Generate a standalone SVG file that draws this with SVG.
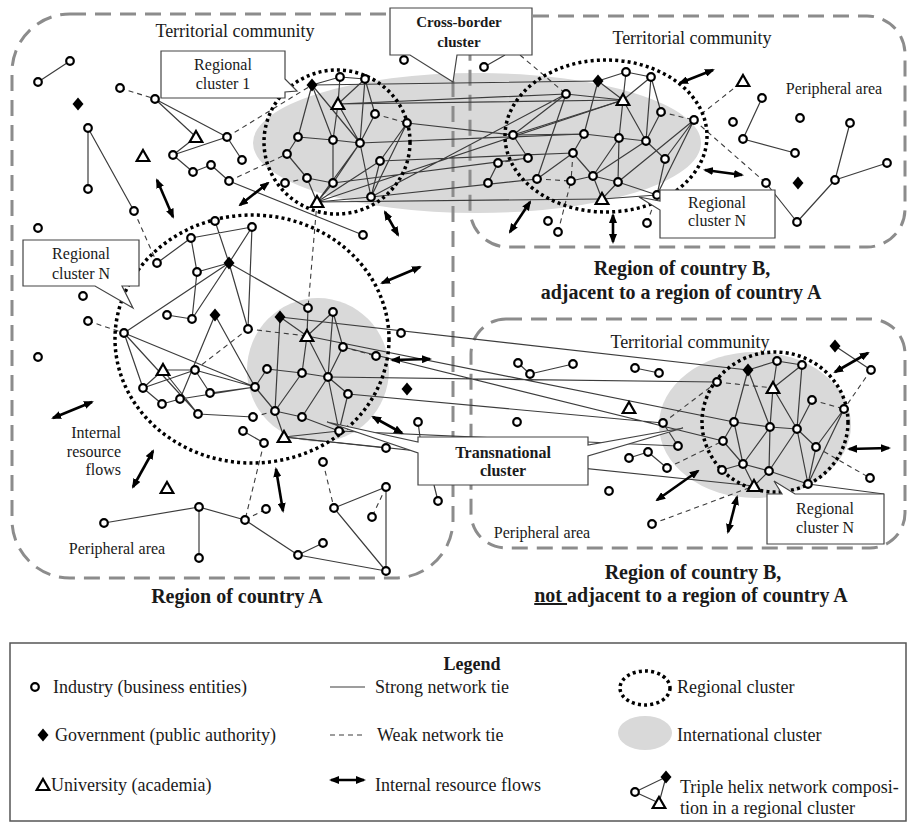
<svg xmlns="http://www.w3.org/2000/svg" width="907" height="822" viewBox="0 0 907 822">
<style>
.reg{fill:none;stroke:#8c8c8c;stroke-width:3;stroke-dasharray:16 9}
.intl{fill:#d9d9d9}
.dot{fill:none;stroke:#000;stroke-width:3.5;stroke-dasharray:3 3.2}
.s{stroke:#3c3c3c;stroke-width:1.2;fill:none}
.w{stroke:#3c3c3c;stroke-width:1.1;stroke-dasharray:5 4;fill:none}
.f{stroke:#000;stroke-width:2.6;marker-start:url(#ah);marker-end:url(#ah)}
.co{fill:#fff;stroke:#444;stroke-width:1.2}
text{font-family:"Liberation Serif","Times New Roman",serif;fill:#1a1a1a}
.tc{font-size:18px;text-anchor:middle}
.pa{font-size:16px;text-anchor:middle}
.cl{font-size:16px;text-anchor:middle}
.cb{font-size:15px;font-weight:bold;text-anchor:middle}
.tn{font-size:16px;font-weight:bold;text-anchor:middle}
.ti{font-size:20px;font-weight:bold;text-anchor:middle}
.lg{font-size:18px}
</style>
<defs>
<marker id="ah" viewBox="0 0 10 8" refX="8" refY="4" markerWidth="10" markerHeight="8" markerUnits="userSpaceOnUse" orient="auto-start-reverse"><path d="M0,0L10,4L0,8Z" fill="#000"/></marker>
<circle id="I" r="3.8" fill="#fff" stroke="#000" stroke-width="2.2"/>
<path id="G" d="M0,-6.5L5.5,0L0,6.5L-5.5,0Z" fill="#000"/>
<path id="U" d="M0,-6L6.3,5L-6.3,5Z" fill="#fff" stroke="#000" stroke-width="2.2"/>
</defs>

<g id="international-clusters">
<ellipse class="intl" cx="477" cy="143" rx="224" ry="70"/>
<ellipse class="intl" cx="318" cy="370" rx="71" ry="72"/>
<ellipse class="intl" cx="755" cy="425" rx="96" ry="73"/>
</g>

<g id="regions">
<rect class="reg" x="12" y="14" width="441" height="564" rx="58"/>
<rect class="reg" x="470" y="16" width="435" height="231" rx="38"/>
<rect class="reg" x="471" y="319" width="434" height="229" rx="35"/>
</g>

<g id="connectors">
<path class="s" d="M70 61L38 82M155 99L196 137M155 99L227 137M196 137L173 155M173 155L227 137M227 137L242 160M88 128L88 189M88 128L134 211M173 155L193 172M193 172L211 165M211 165L229 181M229 181L363 235M484 67L505 55"/>
<path class="s" d="M312 85L340 77M340 77L365 79M312 85L298 137M312 85L333 140M312 85L360 143M340 77L338 104M365 79L338 104M365 79L360 143M365 79L375 114M338 104L333 140M338 104L360 143M375 114L360 143M407 123L380 161M407 123L371 197M298 137L333 140M298 137L287 154M333 140L360 143M333 140L333 183M360 143L333 183M360 143L371 197M360 143L317 202M287 154L307 178M380 161L371 197M307 178L333 183M307 178L317 202M333 183L317 202M317 202L371 197M317 202L380 161"/>
<path class="s" d="M312 85L598 81M338 104L623 100M338 104L566 94M407 123L513 135M360 143L584 134M380 161L573 153M333 183L528 158M371 197L566 94M317 202L623 100M317 202L602 199M371 197L537 179"/>
<path class="s" d="M598 81L626 72M626 72L651 77M598 81L623 100M598 81L584 134M626 72L623 100M651 77L623 100M651 77L646 141M651 77L661 112M623 100L619 138M623 100L646 141M623 100L513 135M566 94L623 100M566 94L513 135M566 94L537 179M661 112L646 141M694 120L665 159M694 120L657 195M694 120L618 182M513 135L528 158M513 135L584 134M584 134L573 153M584 134L619 138M619 138L646 141M619 138L618 182M619 138L593 176M646 141L593 176M646 141L665 159M573 153L537 179M573 153L593 176M498 163L488 183M593 176L618 182M593 176L602 199M593 176L571 181M618 182L602 199M618 182L657 195M602 199L657 195M665 159L657 195"/>
<path class="s" d="M762 98L743 139M743 139L795 153M850 123L835 180M835 180L887 163M835 180L797 222M797 222L766 183"/>
<path class="s" d="M215 221L229 263M191 238L252 227M191 238L197 272M157 263L191 238M197 272L229 263M229 263L252 227M229 263L192 319M229 263L124 333M229 263L248 329M229 263L308 308M252 227L248 329M167 315L192 319M192 319L197 272M124 333L143 388M124 333L255 387M124 333L198 414M215 315L180 399M215 315L255 387M163 370L195 370M163 370L198 414M195 370L143 388M195 370L210 393M195 370L255 387M143 388L162 404M143 388L163 370M162 404L180 399M180 399L255 387M210 393L255 387M198 414L253 417M243 431L264 443"/>
<path class="s" d="M308 308L307 336M333 312L307 336M333 312L343 347M333 312L328 377M280 317L307 336M280 317L275 411M307 336L302 373M307 336L328 377M343 347L328 377M267 369L302 373M267 369L255 387M302 373L328 377M302 373L275 411M328 377L302 417M328 377L339 431M328 377L348 394M348 394L339 431M255 387L275 411M275 411L284 437M275 411L302 417M302 417L339 431M339 431L284 437M284 437L386 448M418 422L420 437"/>
<path class="s" d="M280 317L748 370M307 336L734 422M328 377L717 382M343 347L723 441M348 394L663 423M339 431L678 446M284 437L754 486"/>
<path class="s" d="M835 346L871 370M748 370L777 361M777 361L802 365M748 370L734 422M748 370L770 427M777 361L773 388M802 365L773 388M802 365L797 429M773 388L770 427M773 388L797 429M812 400L797 429M844 409L816 447M844 409L808 484M734 422L770 427M734 422L723 441M734 422L743 464M770 427L797 429M770 427L743 464M770 427L769 471M797 429L816 447M797 429L769 471M797 429L808 484M816 447L808 484M723 441L743 464M743 464L769 471M743 464L754 486M769 471L754 486M769 471L808 484M722 470L743 464M663 423L678 446M629 458L648 452M648 452L667 468M518 363L530 374M530 374L573 364M635 368L659 373M808 484L884 494"/>
<path class="s" d="M104 523L199 507M199 507L199 558M199 507L245 520M245 520L298 555M298 555L323 543M298 555L386 571M386 571L386 487M386 571L334 508M334 508L386 487M438 501L434 485"/>
<path class="w" d="M120 88L155 99M227 137L312 85M134 211L157 263M229 181L287 154M375 114L407 123M307 178L285 183M520 55L566 94M661 112L694 120M694 120L743 81M694 120L766 183M558 232L571 181M647 223L657 195M573 153L571 181M528 158L498 163M537 179L571 181"/>
<path class="w" d="M88 321L124 333M195 370L248 329M264 443L245 520M317 202L308 308M248 329L307 336M343 347L376 356M253 417L275 411M871 370L844 409M717 382L773 388M812 400L844 409M816 447L870 478M663 423L717 382M667 468L723 441M652 524L754 486M245 520L266 509M386 487L372 517M323 462L334 508"/>
</g>

<g id="regional-clusters">
<ellipse class="dot" cx="337" cy="142" rx="73" ry="72"/>
<ellipse class="dot" cx="606" cy="136" rx="101" ry="76"/>
<ellipse class="dot" cx="252" cy="339" rx="137" ry="124"/>
<ellipse class="dot" cx="775" cy="422" rx="73" ry="70"/>
</g>

<g id="resource-flows">
<line class="f" x1="157" y1="180" x2="173" y2="217"/>
<line class="f" x1="240" y1="205" x2="268" y2="183"/>
<line class="f" x1="385" y1="212" x2="398" y2="235"/>
<line class="f" x1="382" y1="283" x2="420" y2="267"/>
<line class="f" x1="392" y1="360" x2="430" y2="359"/>
<line class="f" x1="373" y1="417" x2="402" y2="433"/>
<line class="f" x1="53" y1="418" x2="92" y2="402"/>
<line class="f" x1="133" y1="487" x2="153" y2="451"/>
<line class="f" x1="276" y1="469" x2="283" y2="511"/>
<line class="f" x1="510" y1="232" x2="530" y2="202"/>
<line class="f" x1="680" y1="83" x2="713" y2="70"/>
<line class="f" x1="705" y1="170" x2="742" y2="175"/>
<line class="f" x1="613" y1="215" x2="613" y2="242"/>
<line class="f" x1="835" y1="372" x2="868" y2="353"/>
<line class="f" x1="849" y1="449" x2="889" y2="448"/>
<line class="f" x1="657" y1="500" x2="698" y2="471"/>
<line class="f" x1="728" y1="532" x2="737" y2="497"/>
</g>

<g id="nodes">
<g id="n-a1"><use href="#I" x="70" y="61"/></g>
<g id="n-a2"><use href="#I" x="38" y="82"/></g>
<g id="n-a3"><use href="#G" x="78" y="104"/></g>
<g id="n-a4"><use href="#I" x="120" y="88"/></g>
<g id="n-a5"><use href="#I" x="155" y="99"/></g>
<g id="n-a6"><use href="#U" x="196" y="137"/></g>
<g id="n-a7"><use href="#I" x="227" y="137"/></g>
<g id="n-a8"><use href="#I" x="173" y="155"/></g>
<g id="n-a9"><use href="#I" x="242" y="160"/></g>
<g id="n-a10"><use href="#I" x="88" y="128"/></g>
<g id="n-a11"><use href="#I" x="88" y="189"/></g>
<g id="n-a12"><use href="#I" x="134" y="211"/></g>
<g id="n-a13"><use href="#U" x="143" y="156"/></g>
<g id="n-a14"><use href="#I" x="193" y="172"/></g>
<g id="n-a15"><use href="#I" x="211" y="165"/></g>
<g id="n-a16"><use href="#I" x="229" y="181"/></g>
<g id="n-a17"><use href="#I" x="38" y="228"/></g>
<g id="n-a18"><use href="#I" x="363" y="235"/></g>
<g id="n-a19"><use href="#I" x="404" y="60"/></g>
<g id="n-b1"><use href="#G" x="312" y="85"/></g>
<g id="n-b2"><use href="#I" x="340" y="77"/></g>
<g id="n-b3"><use href="#I" x="365" y="79"/></g>
<g id="n-b4"><use href="#U" x="338" y="104"/></g>
<g id="n-b5"><use href="#I" x="375" y="114"/></g>
<g id="n-b6"><use href="#I" x="407" y="123"/></g>
<g id="n-b7"><use href="#I" x="298" y="137"/></g>
<g id="n-b8"><use href="#I" x="333" y="140"/></g>
<g id="n-b9"><use href="#I" x="360" y="143"/></g>
<g id="n-b10"><use href="#I" x="287" y="154"/></g>
<g id="n-b11"><use href="#I" x="380" y="161"/></g>
<g id="n-b12"><use href="#I" x="307" y="178"/></g>
<g id="n-b13"><use href="#I" x="333" y="183"/></g>
<g id="n-b14"><use href="#I" x="285" y="183"/></g>
<g id="n-b15"><use href="#U" x="317" y="202"/></g>
<g id="n-b16"><use href="#I" x="371" y="197"/></g>
<g id="n-d1"><use href="#I" x="215" y="221"/></g>
<g id="n-d2"><use href="#I" x="191" y="238"/></g>
<g id="n-d3"><use href="#I" x="157" y="263"/></g>
<g id="n-d4"><use href="#I" x="197" y="272"/></g>
<g id="n-d5"><use href="#G" x="229" y="263"/></g>
<g id="n-d6"><use href="#I" x="252" y="227"/></g>
<g id="n-d7"><use href="#I" x="83" y="296"/></g>
<g id="n-d8"><use href="#I" x="88" y="321"/></g>
<g id="n-d9"><use href="#I" x="124" y="333"/></g>
<g id="n-d10"><use href="#I" x="167" y="315"/></g>
<g id="n-d11"><use href="#I" x="192" y="319"/></g>
<g id="n-d12"><use href="#G" x="215" y="315"/></g>
<g id="n-d13"><use href="#I" x="248" y="329"/></g>
<g id="n-d14"><use href="#I" x="38" y="357"/></g>
<g id="n-d15"><use href="#U" x="163" y="370"/></g>
<g id="n-d16"><use href="#I" x="195" y="370"/></g>
<g id="n-d17"><use href="#I" x="143" y="388"/></g>
<g id="n-d18"><use href="#I" x="210" y="393"/></g>
<g id="n-d19"><use href="#I" x="162" y="404"/></g>
<g id="n-d20"><use href="#I" x="180" y="399"/></g>
<g id="n-d21"><use href="#I" x="198" y="414"/></g>
<g id="n-d22"><use href="#I" x="243" y="431"/></g>
<g id="n-d23"><use href="#I" x="264" y="443"/></g>
<g id="n-e1"><use href="#I" x="308" y="308"/></g>
<g id="n-e2"><use href="#I" x="333" y="312"/></g>
<g id="n-e3"><use href="#G" x="280" y="317"/></g>
<g id="n-e4"><use href="#U" x="307" y="336"/></g>
<g id="n-e5"><use href="#I" x="343" y="347"/></g>
<g id="n-e6"><use href="#I" x="376" y="356"/></g>
<g id="n-e7"><use href="#I" x="267" y="369"/></g>
<g id="n-e8"><use href="#I" x="302" y="373"/></g>
<g id="n-e9"><use href="#I" x="328" y="377"/></g>
<g id="n-e10"><use href="#I" x="255" y="387"/></g>
<g id="n-e11"><use href="#I" x="348" y="394"/></g>
<g id="n-e12"><use href="#I" x="275" y="411"/></g>
<g id="n-e13"><use href="#I" x="253" y="417"/></g>
<g id="n-e14"><use href="#I" x="302" y="417"/></g>
<g id="n-e15"><use href="#I" x="339" y="431"/></g>
<g id="n-e16"><use href="#U" x="284" y="437"/></g>
<g id="n-e17"><use href="#I" x="401" y="333"/></g>
<g id="n-e18"><use href="#G" x="407" y="389"/></g>
<g id="n-e19"><use href="#I" x="418" y="422"/></g>
<g id="n-e20"><use href="#I" x="386" y="448"/></g>
<g id="n-e21"><use href="#I" x="323" y="462"/></g>
<g id="n-f1"><use href="#U" x="167" y="488"/></g>
<g id="n-f2"><use href="#I" x="199" y="507"/></g>
<g id="n-f3"><use href="#I" x="104" y="523"/></g>
<g id="n-f4"><use href="#I" x="245" y="520"/></g>
<g id="n-f5"><use href="#I" x="266" y="509"/></g>
<g id="n-f6"><use href="#I" x="298" y="555"/></g>
<g id="n-f7"><use href="#I" x="323" y="543"/></g>
<g id="n-f8"><use href="#I" x="199" y="558"/></g>
<g id="n-f9"><use href="#I" x="386" y="487"/></g>
<g id="n-f10"><use href="#I" x="334" y="508"/></g>
<g id="n-f11"><use href="#I" x="372" y="517"/></g>
<g id="n-f12"><use href="#I" x="386" y="571"/></g>
<g id="n-f13"><use href="#I" x="438" y="501"/></g>
<g id="n-g1"><use href="#G" x="598" y="81"/></g>
<g id="n-g2"><use href="#I" x="626" y="72"/></g>
<g id="n-g3"><use href="#I" x="651" y="77"/></g>
<g id="n-g4"><use href="#U" x="623" y="100"/></g>
<g id="n-g5"><use href="#I" x="566" y="94"/></g>
<g id="n-g6"><use href="#I" x="661" y="112"/></g>
<g id="n-g7"><use href="#I" x="694" y="120"/></g>
<g id="n-g8"><use href="#I" x="513" y="135"/></g>
<g id="n-g9"><use href="#I" x="584" y="134"/></g>
<g id="n-g10"><use href="#I" x="619" y="138"/></g>
<g id="n-g11"><use href="#I" x="646" y="141"/></g>
<g id="n-g12"><use href="#I" x="528" y="158"/></g>
<g id="n-g13"><use href="#I" x="573" y="153"/></g>
<g id="n-g14"><use href="#I" x="665" y="159"/></g>
<g id="n-g15"><use href="#I" x="498" y="163"/></g>
<g id="n-g16"><use href="#I" x="488" y="183"/></g>
<g id="n-g17"><use href="#I" x="537" y="179"/></g>
<g id="n-g18"><use href="#I" x="571" y="181"/></g>
<g id="n-g19"><use href="#I" x="593" y="176"/></g>
<g id="n-g20"><use href="#I" x="618" y="182"/></g>
<g id="n-g21"><use href="#U" x="602" y="199"/></g>
<g id="n-g22"><use href="#I" x="657" y="195"/></g>
<g id="n-h1"><use href="#I" x="484" y="67"/></g>
<g id="n-h2"><use href="#U" x="743" y="81"/></g>
<g id="n-h3"><use href="#I" x="762" y="98"/></g>
<g id="n-h4"><use href="#I" x="733" y="122"/></g>
<g id="n-h5"><use href="#I" x="800" y="118"/></g>
<g id="n-h6"><use href="#I" x="743" y="139"/></g>
<g id="n-h7"><use href="#I" x="795" y="153"/></g>
<g id="n-h8"><use href="#I" x="850" y="123"/></g>
<g id="n-h9"><use href="#I" x="887" y="163"/></g>
<g id="n-h10"><use href="#I" x="766" y="183"/></g>
<g id="n-h11"><use href="#G" x="798" y="183"/></g>
<g id="n-h12"><use href="#I" x="835" y="180"/></g>
<g id="n-h13"><use href="#I" x="797" y="222"/></g>
<g id="n-h14"><use href="#I" x="548" y="221"/></g>
<g id="n-h15"><use href="#I" x="558" y="232"/></g>
<g id="n-h16"><use href="#I" x="647" y="223"/></g>
<g id="n-k1"><use href="#G" x="748" y="370"/></g>
<g id="n-k2"><use href="#I" x="777" y="361"/></g>
<g id="n-k3"><use href="#I" x="802" y="365"/></g>
<g id="n-k4"><use href="#I" x="717" y="382"/></g>
<g id="n-k5"><use href="#U" x="773" y="388"/></g>
<g id="n-k6"><use href="#I" x="812" y="400"/></g>
<g id="n-k7"><use href="#I" x="844" y="409"/></g>
<g id="n-k8"><use href="#I" x="663" y="423"/></g>
<g id="n-k9"><use href="#I" x="734" y="422"/></g>
<g id="n-k10"><use href="#I" x="770" y="427"/></g>
<g id="n-k11"><use href="#I" x="797" y="429"/></g>
<g id="n-k12"><use href="#I" x="678" y="446"/></g>
<g id="n-k13"><use href="#I" x="723" y="441"/></g>
<g id="n-k14"><use href="#I" x="816" y="447"/></g>
<g id="n-k15"><use href="#I" x="743" y="464"/></g>
<g id="n-k16"><use href="#I" x="722" y="470"/></g>
<g id="n-k17"><use href="#I" x="769" y="471"/></g>
<g id="n-k18"><use href="#U" x="754" y="486"/></g>
<g id="n-k19"><use href="#I" x="808" y="484"/></g>
<g id="n-m1"><use href="#G" x="835" y="346"/></g>
<g id="n-m2"><use href="#I" x="871" y="370"/></g>
<g id="n-m3"><use href="#I" x="870" y="478"/></g>
<g id="n-m4"><use href="#I" x="518" y="363"/></g>
<g id="n-m5"><use href="#I" x="530" y="374"/></g>
<g id="n-m6"><use href="#I" x="573" y="364"/></g>
<g id="n-m7"><use href="#I" x="635" y="368"/></g>
<g id="n-m8"><use href="#I" x="659" y="373"/></g>
<g id="n-m9"><use href="#U" x="629" y="408"/></g>
<g id="n-m10"><use href="#I" x="517" y="422"/></g>
<g id="n-m11"><use href="#I" x="629" y="458"/></g>
<g id="n-m12"><use href="#I" x="648" y="452"/></g>
<g id="n-m13"><use href="#I" x="667" y="468"/></g>
<g id="n-m14"><use href="#I" x="609" y="491"/></g>
<g id="n-m15"><use href="#I" x="652" y="524"/></g>
</g>

<g id="callouts">
<g id="callout-regional-1"><path class="co" d="M161,51H285V79L297,91L285,92V98H161Z"/><text class="cl" x="223" y="70">Regional</text><text class="cl" x="223" y="89">cluster 1</text></g>
<g id="callout-cross-border"><path class="co" d="M390,8H532V55H457L453,82L410,55H390Z"/><text class="cb" x="459" y="27">Cross-border</text><text class="cb" x="459" y="47">cluster</text></g>
<g id="callout-regional-n-a"><path class="co" d="M23,240H139V286H122L133,308L95,286H23Z"/><text class="cl" x="81" y="259">Regional</text><text class="cl" x="81" y="279">cluster N</text></g>
<g id="callout-regional-n-b1"><path class="co" d="M660,190H775V238H660V210L639,197L660,201Z"/><text class="cl" x="717" y="208">Regional</text><text class="cl" x="717" y="226">cluster N</text></g>
<g id="callout-transnational"><path class="co" d="M418,437H588V445L683,428L588,456V485H418V453L327,422L418,442Z"/><text class="tn" x="503" y="458">Transnational</text><text class="tn" x="503" y="476">cluster</text></g>
<g id="callout-regional-n-b2"><path class="co" d="M767,494H782L774,481L795,494H884V544H767Z"/><text class="cl" x="825" y="514">Regional</text><text class="cl" x="825" y="533">cluster N</text></g>
</g>

<g id="labels">
<text class="tc" x="235" y="37">Territorial community</text>
<text class="tc" x="692" y="44">Territorial community</text>
<text class="tc" x="690" y="348">Territorial community</text>
<text class="pa" x="834" y="94">Peripheral area</text>
<text class="pa" x="117" y="554">Peripheral area</text>
<text class="pa" x="542" y="538">Peripheral area</text>
<text font-size="16" text-anchor="end"><tspan x="121" y="438">Internal</tspan><tspan x="121" y="457">resource</tspan><tspan x="121" y="475">flows</tspan></text>
<text class="ti" x="237" y="603">Region of country A</text>
<text class="ti" x="682" y="275">Region of country B,</text>
<text class="ti" x="681" y="299">adjacent to a region of country A</text>
<text class="ti" x="693" y="579">Region of country B,</text>
<text class="ti" x="691" y="602"><tspan text-decoration="underline">not </tspan>adjacent to a region of country A</text>
</g>

<g id="legend">
<rect x="10" y="643" width="896" height="178" fill="none" stroke="#555" stroke-width="1.5"/>
<text x="472" y="670" font-size="18" font-weight="bold" text-anchor="middle">Legend</text>
<use href="#I" x="35" y="687"/><text class="lg" x="53" y="693">Industry (business entities)</text>
<use href="#G" x="43" y="735"/><text class="lg" x="55" y="741">Government (public authority)</text>
<use href="#U" x="43" y="785"/><text class="lg" x="51" y="791">University (academia)</text>
<line class="s" x1="330" y1="687" x2="365" y2="687"/><text class="lg" x="375" y="693">Strong network tie</text>
<line class="w" x1="330" y1="735" x2="365" y2="735"/><text class="lg" x="377" y="741">Weak network tie</text>
<line class="f" x1="331" y1="780" x2="364" y2="780"/><text class="lg" x="375" y="791">Internal resource flows</text>
<ellipse class="dot" cx="645" cy="688" rx="25" ry="17" stroke-width="3"/><text class="lg" x="677" y="693">Regional cluster</text>
<ellipse class="intl" cx="645" cy="733" rx="27" ry="17"/><text class="lg" x="677" y="741">International cluster</text>
<path class="s" d="M635 792L666 777L659 803Z" stroke="#000"/>
<use href="#I" x="635" y="792"/><use href="#G" x="666" y="777"/><use href="#U" x="659" y="803"/>
<text class="lg" x="680" y="793">Triple helix network composi-</text>
<text class="lg" x="680" y="814">tion in a regional cluster</text>
</g>
</svg>
